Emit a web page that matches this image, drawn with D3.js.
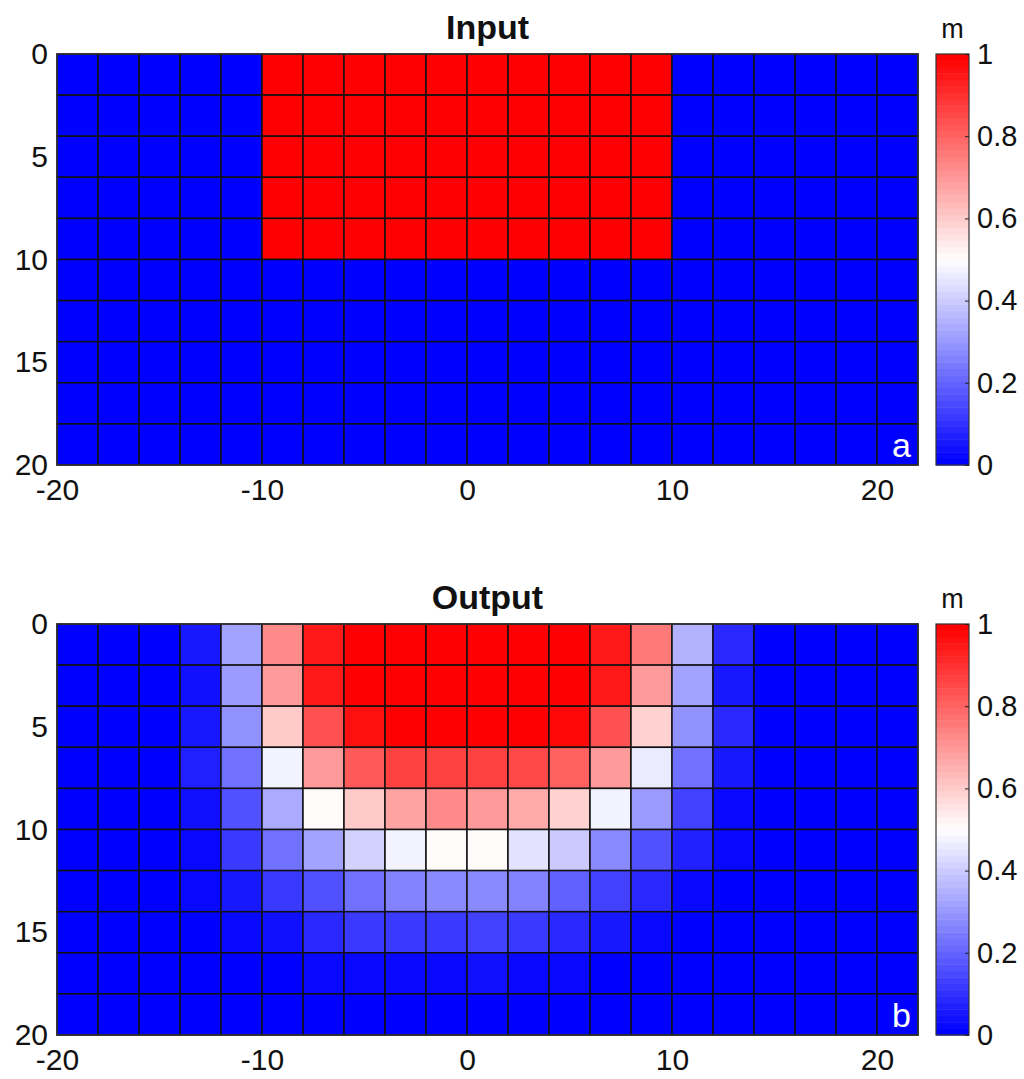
<!DOCTYPE html>
<html>
<head>
<meta charset="utf-8">
<script src="https://cdn.jsdelivr.net/npm/d3@7"></script>
<style>
  body { margin: 0; background: #fff; }
  text { font-family: "Liberation Sans", Arial, Helvetica, sans-serif; fill: #111; }
</style>
</head>
<body>
<div class="diagram"></div>
<script>
// cell edges: x from -20 to 22, y (depth) from 0 to 20, cell size 2
const xEdges = d3.range(-20, 23, 2);
const yEdges = d3.range(0, 21, 2);
const xTicks = [-20, -10, 0, 10, 20];
const yTicks = [0, 5, 10, 15, 20];
const cbTicks = [0, 0.2, 0.4, 0.6, 0.8, 1];

const inputGrid = [
  [0,0,0,0,0,1,1,1,1,1,1,1,1,1,1,0,0,0,0,0,0],
  [0,0,0,0,0,1,1,1,1,1,1,1,1,1,1,0,0,0,0,0,0],
  [0,0,0,0,0,1,1,1,1,1,1,1,1,1,1,0,0,0,0,0,0],
  [0,0,0,0,0,1,1,1,1,1,1,1,1,1,1,0,0,0,0,0,0],
  [0,0,0,0,0,1,1,1,1,1,1,1,1,1,1,0,0,0,0,0,0],
  [0,0,0,0,0,0,0,0,0,0,0,0,0,0,0,0,0,0,0,0,0],
  [0,0,0,0,0,0,0,0,0,0,0,0,0,0,0,0,0,0,0,0,0],
  [0,0,0,0,0,0,0,0,0,0,0,0,0,0,0,0,0,0,0,0,0],
  [0,0,0,0,0,0,0,0,0,0,0,0,0,0,0,0,0,0,0,0,0],
  [0,0,0,0,0,0,0,0,0,0,0,0,0,0,0,0,0,0,0,0,0]
];

const outputGrid = [
  [0,0,0,0.06,0.32,0.73,0.94,0.99,1,1,1,1,0.99,0.95,0.75,0.35,0.09,0,0,0,0],
  [0,0,0,0.04,0.31,0.69,0.94,1,1,1,1,1,1,0.94,0.70,0.32,0.06,0,0,0,0],
  [0,0,0,0.06,0.29,0.60,0.84,0.96,0.99,0.99,0.99,0.99,0.97,0.84,0.58,0.29,0.08,0,0,0,0],
  [0,0,0,0.07,0.23,0.48,0.70,0.82,0.86,0.86,0.86,0.85,0.81,0.69,0.46,0.22,0.05,0,0,0,0],
  [0,0,0,0.04,0.17,0.34,0.50,0.60,0.68,0.72,0.70,0.67,0.59,0.48,0.30,0.13,0.03,0,0,0,0],
  [0,0,0,0.03,0.12,0.22,0.32,0.41,0.47,0.50,0.50,0.45,0.40,0.28,0.17,0.07,0.02,0,0,0,0],
  [0,0,0,0.02,0.05,0.12,0.17,0.23,0.25,0.27,0.28,0.25,0.20,0.14,0.08,0.03,0.01,0,0,0,0],
  [0,0,0,0.01,0.02,0.04,0.08,0.11,0.12,0.12,0.13,0.12,0.08,0.05,0.02,0.01,0,0,0,0,0],
  [0,0,0,0,0.01,0.01,0.02,0.03,0.03,0.03,0.04,0.03,0.02,0.01,0.01,0,0,0,0,0,0],
  [0,0,0,0,0,0,0.01,0.01,0.01,0.01,0.01,0.01,0.01,0,0,0,0,0,0,0,0]
];

const panels = [
  {title: "Input", tag: "a", grid: inputGrid, top: 54, bottom: 465},
  {title: "Output", tag: "b", grid: outputGrid, top: 624, bottom: 1035}
];

const svg = d3.select(".diagram").append("svg")
  .attr("width", 1024)
  .attr("height", 1079);

// blue - white - red map, 64 steps like matlab
const nLevels = 64;
const ramp = d3.scaleLinear().domain([0, 0.5, 1]).range(["#0000ff", "#ffffff", "#ff0000"]);
const color = v => ramp(Math.min(nLevels - 1, Math.floor(v * nLevels)) / (nLevels - 1));
const fmt = d => String(d); // plain hyphen minus, like the original

const x = d3.scaleLinear().domain([-20, 22]).range([57, 918]);

panels.forEach(p => {
  const y = d3.scaleLinear().domain([0, 20]).range([p.top, p.bottom]);
  const g = svg.append("g");

  const cells = [];
  p.grid.forEach((row, i) => row.forEach((v, j) => cells.push({i, j, v})));

  g.selectAll("rect.cell")
    .data(cells)
    .join("rect")
      .attr("class", "cell")
      .attr("x", d => x(xEdges[d.j]))
      .attr("y", d => y(yEdges[d.i]))
      .attr("width", d => x(xEdges[d.j + 1]) - x(xEdges[d.j]))
      .attr("height", d => y(yEdges[d.i + 1]) - y(yEdges[d.i]))
      .style("fill", d => color(d.v))
      .style("stroke", "#111")
      .style("stroke-width", 1.5);

  g.append("rect")
    .attr("x", x(-20)).attr("y", y(0))
    .attr("width", x(22) - x(-20)).attr("height", y(20) - y(0))
    .style("fill", "none").style("stroke", "#333").style("stroke-width", 1.5);

  // axes (labels only, grid hides tick marks)
  const yAxis = g.append("g")
    .attr("transform", `translate(${x(-20)},0)`)
    .call(d3.axisLeft(y).tickValues(yTicks).tickFormat(fmt).tickSize(0).tickPadding(9));
  const xAxis = g.append("g")
    .attr("transform", `translate(0,${y(20)})`)
    .call(d3.axisBottom(x).tickValues(xTicks).tickFormat(fmt).tickSize(0).tickPadding(14));
  [xAxis, yAxis].forEach(a => {
    a.select(".domain").remove();
    a.selectAll("text")
      .style("font-size", "30px")
      .style("font-family", "'Liberation Sans', Arial, sans-serif")
      .attr("fill", "#111");
  });
  xAxis.selectAll("text").attr("dy", "0.7em");

  g.append("text")
    .attr("x", (x(-20) + x(22)) / 2)
    .attr("y", p.top - 15)
    .attr("text-anchor", "middle")
    .style("font-size", "34px")
    .style("font-weight", "bold")
    .text(p.title);

  g.append("text")
    .attr("x", x(22) - 7)
    .attr("y", y(20) - 8)
    .attr("text-anchor", "end")
    .style("font-size", "34px")
    .style("fill", "#fff")
    .text(p.tag);

  // colorbar
  const cbX = 936, cbW = 33;
  const cy = d3.scaleLinear().domain([0, 1]).range([p.bottom, p.top]);
  const bands = d3.range(nLevels);
  g.selectAll("rect.band")
    .data(bands)
    .join("rect")
      .attr("class", "band")
      .attr("x", cbX)
      .attr("y", k => cy((k + 1) / nLevels))
      .attr("width", cbW)
      .attr("height", k => cy(k / nLevels) - cy((k + 1) / nLevels) + 0.5)
      .style("fill", k => ramp(k / (nLevels - 1)));
  g.append("rect")
    .attr("x", cbX).attr("y", p.top)
    .attr("width", cbW).attr("height", p.bottom - p.top)
    .style("fill", "none").style("stroke", "#333").style("stroke-width", 1.2);

  const cbAxis = g.append("g")
    .attr("transform", `translate(${cbX + cbW},0)`)
    .call(d3.axisRight(cy).tickValues(cbTicks).tickFormat(fmt).tickSize(-4).tickPadding(8));
  cbAxis.select(".domain").remove();
  cbAxis.selectAll("line").attr("stroke", "#222");
  cbAxis.selectAll("text")
    .style("font-size", "29px")
    .style("font-family", "'Liberation Sans', Arial, sans-serif")
    .attr("fill", "#111");

  g.append("text")
    .attr("x", cbX + cbW / 2)
    .attr("y", p.top - 16)
    .attr("text-anchor", "middle")
    .style("font-size", "27px")
    .text("m");
});
</script>
</body>
</html>
